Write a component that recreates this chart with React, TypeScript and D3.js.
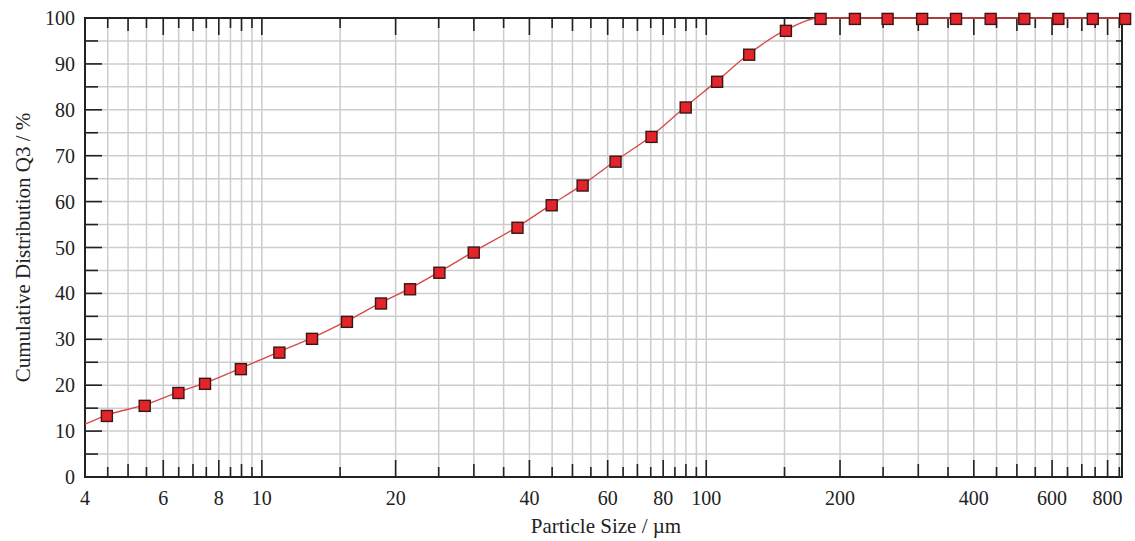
import * as d3 from "d3";

// particle size (µm) of each measured point
const sizes = [
  4.48, 5.45, 6.49, 7.45, 8.97, 10.95, 12.97, 15.54, 18.54, 21.55, 25.09,
  29.98, 37.6, 44.9, 52.7, 62.5, 75.3, 89.9, 105.8, 124.9, 151.1, 180.8, 216,
  255.9, 306, 364.8, 436.5, 519.6, 619.8, 740.9, 876,
];
// cumulative distribution Q3 (%)
const q3 = [
  13.3, 15.5, 18.3, 20.3, 23.5, 27.1, 30.1, 33.8, 37.8, 40.9, 44.5, 48.9,
  54.3, 59.2, 63.5, 68.7, 74.1, 80.5, 86.1, 92.0, 97.2, 99.8, 99.8, 99.8,
  99.8, 99.8, 99.8, 99.8, 99.8, 99.8, 99.8,
];
// where the fitted curve enters the plot on the left
const curveStart = { size: 4, q3: 11.5 };

const xLabels = [4, 6, 8, 10, 20, 40, 60, 80, 100, 200, 400, 600, 800];
const yLabels = [0, 10, 20, 30, 40, 50, 60, 70, 80, 90, 100];
const xDomain = [4, 862];

const W = 1135;
const H = 541;
const margin = { top: 18, right: 13, bottom: 64, left: 85 };
const font = "'Liberation Serif', 'Times New Roman', serif";
const ink = "#222";

export default function App() {
  const x = d3
    .scaleLog()
    .domain(xDomain)
    .range([margin.left, W - margin.right]);
  const y = d3
    .scaleLinear()
    .domain([0, 100])
    .range([H - margin.bottom, margin.top]);

  // minor ticks every 0.5 / 5 / 50 depending on the decade
  const xTicks = [
    ...d3.range(4, 10, 0.5),
    ...d3.range(10, 100, 5),
    ...d3.range(100, xDomain[1], 50),
  ];
  const tickLen = (v) => {
    if (xLabels.includes(v)) return 17;
    const unit = v < 10 ? 1 : v < 100 ? 10 : 100;
    return v % unit === 0 ? 13 : 10;
  };
  const yTicks = d3.range(0, 101, 5);

  const line = d3
    .line()
    .x((d) => x(d[0]))
    .y((d) => y(d[1]))
    .curve(d3.curveMonotoneX);
  const linePts = [
    [curveStart.size, curveStart.q3],
    ...sizes.map((s, i) => [s, Math.min(q3[i] + 0.2, 100)]),
  ];

  const x0 = margin.left;
  const x1 = W - margin.right;
  const y0 = H - margin.bottom;
  const y1 = margin.top;

  return (
    <div style={{ position: "absolute", left: 0, top: 0 }}>
      <svg width={W} height={H} style={{ display: "block", background: "#fff" }}>
        {/* grid */}
        <g stroke="#cdcdcd" strokeWidth={1.5}>
          {xTicks.map((v) => (
            <line key={`gx${v}`} x1={x(v)} x2={x(v)} y1={y1} y2={y0} />
          ))}
          {yTicks.map((v) => (
            <line key={`gy${v}`} x1={x0} x2={x1} y1={y(v)} y2={y(v)} />
          ))}
        </g>

        {/* ticks on all four sides */}
        <g stroke={ink} strokeWidth={1.6}>
          {xTicks.map((v) => (
            <g key={`tx${v}`}>
              <line x1={x(v)} x2={x(v)} y1={y0} y2={y0 - tickLen(v)} />
              <line x1={x(v)} x2={x(v)} y1={y1} y2={y1 + tickLen(v)} />
            </g>
          ))}
          {yTicks.map((v) => (
            <g key={`ty${v}`}>
              <line x1={x0} x2={x0 + (v % 10 === 0 ? 17 : 13)} y1={y(v)} y2={y(v)} />
              <line x1={x1} x2={x1 - 6} y1={y(v)} y2={y(v)} />
            </g>
          ))}
        </g>

        {/* frame */}
        <rect x={x0} y={y1} width={x1 - x0} height={y0 - y1} fill="none" stroke={ink} strokeWidth={2} />

        {/* curve and points */}
        <path d={line(linePts)} fill="none" stroke="#d64a4a" strokeWidth={1.4} />
        {sizes.map((s, i) => (
          <rect
            key={`m${i}`}
            x={x(s) - 5.5}
            y={y(q3[i]) - 5.5}
            width={11}
            height={11}
            fill="#e3242b"
            stroke="#3b1616"
            strokeWidth={1.4}
          />
        ))}

        {/* tick labels */}
        <g fontFamily={font} fontSize={20} fill="#222">
          {xLabels.map((v) => (
            <text key={`lx${v}`} x={x(v)} y={y0 + 28} textAnchor="middle">
              {v}
            </text>
          ))}
          {yLabels.map((v) => (
            <text key={`ly${v}`} x={x0 - 10} y={y(v)} dy="0.35em" textAnchor="end">
              {v}
            </text>
          ))}
        </g>

        {/* axis titles */}
        <text x={606} y={533} textAnchor="middle" fontFamily={font} fontSize={21} fill="#222">
          Particle Size / µm
        </text>
        <text
          transform={`translate(30, ${(y0 + y1) / 2}) rotate(-90)`}
          textAnchor="middle"
          fontFamily={font}
          fontSize={21}
          fill="#222"
        >
          Cumulative Distribution Q3 / %
        </text>
      </svg>
    </div>
  );
}
